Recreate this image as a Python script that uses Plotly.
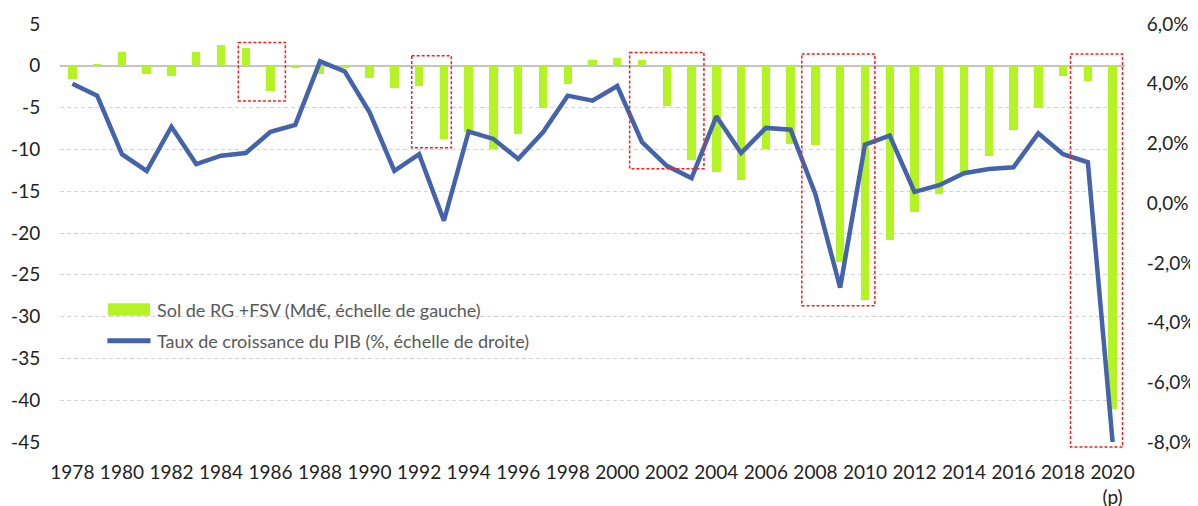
import plotly.graph_objects as go

years = list(range(1978, 2021))

# Solde RG + FSV (Md€, left axis)
solde = [-1.6, 0.1, 1.7, -1.0, -1.2, 1.7, 2.5, 2.1, -3.0, -0.3,
         -1.0, -0.3, -1.4, -2.6, -2.4, -8.7, -7.9, -9.9, -8.1, -5.1,
         -2.2, 0.7, 0.9, 0.7, -4.8, -11.3, -12.7, -13.6, -10.0, -9.3,
         -9.5, -23.5, -28.0, -20.8, -17.5, -15.3, -12.9, -10.8, -7.7, -5.1,
         -1.2, -1.8, -41.0]

# Taux de croissance du PIB (%, right axis)
pib = [4.0, 3.6, 1.64, 1.08, 2.56, 1.31, 1.59, 1.68, 2.39, 2.62,
       4.75, 4.41, 3.04, 1.08, 1.64, -0.59, 2.4, 2.15, 1.48, 2.37,
       3.6, 3.43, 3.92, 2.04, 1.25, 0.84, 2.91, 1.68, 2.52, 2.46,
       0.3, -2.83, 1.96, 2.26, 0.38, 0.6, 1.0, 1.14, 1.2, 2.34,
       1.64, 1.37, -8.0]

x_tickvals = list(range(1978, 2021, 2))
x_ticktext = [str(y) for y in x_tickvals[:-1]] + ["2020<br>(p)"]

LEFT_RANGE = [-45, 5]
RIGHT_RANGE = [-8, 6]
left_tickvals = [5, 0, -5, -10, -15, -20, -25, -30, -35, -40, -45]
left_ticktext = ["5", "0", "-5", "-10", "-15", "-20", "-25", "-30", "-35", "-40", "-45"]

right_tickvals = [6, 4, 2, 0, -2, -4, -6, -8]
right_ticktext = ["6,0%", "4,0%", "2,0%", "0,0%", "-2,0%", "-4,0%", "-6,0%", "-8,0%"]

# highlighted periods (x0, x1 in years; y0, y1 in left-axis units)
boxes = [
    (1984.7, 1986.6, 2.8, -4.2),
    (1991.7, 1993.3, 1.2, -9.8),
    (2000.5, 2003.5, 1.6, -12.3),
    (2007.45, 2010.4, 1.4, -28.7),
    (2018.3, 2020.4, 1.4, -45.6),
]

legend_bar = "Sol de RG +FSV (Md€, échelle de gauche)"
legend_line = "Taux de croissance du PIB (%, échelle de droite)"

BAR_COLOR = "#B4F424"
LINE_COLOR = "#4563AB"
FONT = "Lato"


def left_to_paper(v):
    return (v - LEFT_RANGE[0]) / (LEFT_RANGE[1] - LEFT_RANGE[0])


fig = go.Figure()
fig.add_trace(go.Bar(x=years, y=solde, width=0.34, marker=dict(color=BAR_COLOR, line=dict(width=0)),
                     name=legend_bar, showlegend=False, yaxis="y"))
fig.add_trace(go.Scatter(x=years, y=pib, mode="lines", line=dict(color=LINE_COLOR, width=4.5),
                         name=legend_line, showlegend=False, yaxis="y2"))

for (x0, x1, y0, y1) in boxes:
    fig.add_shape(type="rect", xref="x", yref="paper", x0=x0, x1=x1,
                  y0=left_to_paper(y0), y1=left_to_paper(y1),
                  line=dict(color="#FF1A1A", width=1.5, dash="3px,2px"), layer="above")

# manual legend
fig.add_shape(type="rect", xref="paper", yref="paper", x0=0.0451, x1=0.0845, y0=0.302, y1=0.3317,
              fillcolor=BAR_COLOR, line=dict(width=0))
fig.add_shape(type="line", xref="paper", yref="paper", x0=0.0445, x1=0.0850, y0=0.2421, y1=0.2421,
              line=dict(color=LINE_COLOR, width=5))
fig.add_annotation(xref="paper", yref="paper", x=0.0892, y=0.3169, text=legend_bar, showarrow=False,
                   xanchor="left", yanchor="middle", font=dict(family=FONT, size=18, color="#595959"))
fig.add_annotation(xref="paper", yref="paper", x=0.0892, y=0.2421, text=legend_line, showarrow=False,
                   xanchor="left", yanchor="middle", font=dict(family=FONT, size=18, color="#595959"))

# the page body has an 8px default margin, so the figure is 8px smaller than the window
fig.update_layout(
    width=1190, height=498,
    margin=dict(l=52, r=73, t=16, b=64, autoexpand=False),
    paper_bgcolor="white", plot_bgcolor="white",
    font=dict(family=FONT, size=19, color="#222222"),
    showlegend=False,
    bargap=0,
    xaxis=dict(range=[1977.5, 2020.5], tickvals=x_tickvals, ticktext=x_ticktext,
               showgrid=False, zeroline=False, showline=False, automargin=False,
               ticks="outside", ticklen=13, tickcolor="rgba(0,0,0,0)"),
    yaxis=dict(range=LEFT_RANGE, tickvals=left_tickvals, ticktext=left_ticktext,
               showgrid=True, gridcolor="#D4D4D4", gridwidth=1, griddash="4px,3px",
               zeroline=True, zerolinecolor="#C4C4C4", zerolinewidth=1.5, automargin=False,
               showline=False, ticks="outside", ticklen=15, tickcolor="rgba(0,0,0,0)"),
    yaxis2=dict(range=RIGHT_RANGE, tickvals=right_tickvals, ticktext=right_ticktext,
                overlaying="y", side="right", showgrid=False, zeroline=False, showline=False,
                automargin=False,
                ticks="outside", ticklen=17, tickcolor="rgba(0,0,0,0)"),
)

fig.write_html("out.html")
